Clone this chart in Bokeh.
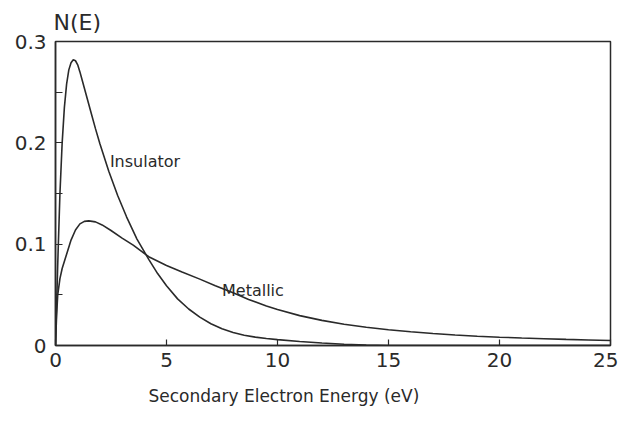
from bokeh.plotting import figure
from bokeh.models import FixedTicker, Range1d, Label, Title
from bokeh.embed import file_html
from bokeh.resources import INLINE

# Data
insulator_e = [0, 0.05, 0.1, 0.2, 0.3, 0.4, 0.5, 0.6, 0.7, 0.8, 0.9, 1.0, 1.1, 1.2, 1.4, 1.6, 1.8, 2.0, 2.4, 2.8, 3.2, 3.67, 4.2, 4.6, 5.0, 5.5, 6.0, 6.5, 7.0, 7.5, 8.0, 8.5, 9.0, 9.5, 10.0, 11.0, 12.0, 13.0, 14.0, 15.0, 20.0, 25.0]
insulator_n = [0, 0.04, 0.08, 0.15, 0.2, 0.235, 0.258, 0.272, 0.279, 0.282, 0.281, 0.277, 0.27, 0.262, 0.246, 0.23, 0.214, 0.199, 0.172, 0.148, 0.127, 0.105, 0.085, 0.071, 0.059, 0.046, 0.036, 0.028, 0.0215, 0.0165, 0.0128, 0.0102, 0.0083, 0.0069, 0.0058, 0.004, 0.0025, 0.0013, 0.0005, 0.0, 0.0, 0.0]

metallic_e = [0, 0.05, 0.1, 0.2, 0.3, 0.5, 0.7, 0.9, 1.1, 1.3, 1.5, 1.8, 2.1, 2.5, 3.0, 3.5, 4.2, 5.0, 5.7, 6.5, 7.2, 8.0, 8.7, 9.5, 10.0, 11.0, 12.0, 13.0, 14.0, 15.0, 16.0, 17.0, 18.0, 19.0, 20.0, 21.0, 22.0, 23.0, 24.0, 25.0]
metallic_n = [0, 0.03, 0.05, 0.066, 0.076, 0.09, 0.104, 0.114, 0.12, 0.1225, 0.123, 0.122, 0.119, 0.1135, 0.106, 0.099, 0.0876, 0.079, 0.0725, 0.0655, 0.059, 0.052, 0.0455, 0.039, 0.0355, 0.0295, 0.0248, 0.021, 0.018, 0.0155, 0.0135, 0.0118, 0.0104, 0.0092, 0.0082, 0.0074, 0.0067, 0.006, 0.0055, 0.005]

x_ticks = [0, 5, 10, 15, 20, 25]
y_ticks = [0, 0.1, 0.2, 0.3]
y_minor = [0.05, 0.15, 0.25]
y_tick_labels = {0: "0", 0.1: "0.1", 0.2: "0.2", 0.3: "0.3"}

FONT = "DejaVu Sans"
INK = "#2a2a2a"

p = figure(width=618, height=421, output_backend="svg", toolbar_location=None,
           x_range=Range1d(0, 25), y_range=Range1d(0, 0.3),
           min_border_left=55, min_border_right=8, min_border_top=41, min_border_bottom=76)

p.title.text = "N(E)"
p.title.align = "left"
p.title.offset = -2
p.title.standoff = 14
p.title.text_font = FONT
p.title.text_font_size = "22px"
p.title.text_font_style = "normal"
p.title.text_color = INK

# x-axis title, left of centre as in the reference
p.add_layout(Title(text="Secondary Electron Energy (eV)", align="left", offset=93,
                   standoff=29, text_font=FONT, text_font_size="17px",
                   text_font_style="normal", text_color=INK), "below")

p.grid.visible = False
p.background_fill_color = "white"
p.border_fill_color = "white"
p.outline_line_color = INK
p.outline_line_width = 1.5

p.xaxis.ticker = FixedTicker(ticks=x_ticks)
p.yaxis.ticker = FixedTicker(ticks=y_ticks, minor_ticks=y_minor)
p.yaxis.major_label_overrides = y_tick_labels

for ax in (p.xaxis, p.yaxis):
    ax.axis_line_color = INK
    ax.axis_line_width = 1.5
    ax.major_tick_line_color = INK
    ax.major_tick_line_width = 1.2
    ax.minor_tick_line_color = INK
    ax.minor_tick_line_width = 1.2
    ax.major_tick_out = 0
    ax.minor_tick_out = 0
    ax.major_label_text_font = FONT
    ax.major_label_text_font_size = "20px"
    ax.major_label_text_color = INK

p.xaxis.major_tick_in = 6
p.xaxis.minor_tick_in = 0
p.yaxis.major_tick_in = 7
p.yaxis.minor_tick_in = 7
p.xaxis.major_label_standoff = 7
p.yaxis.major_label_standoff = 9

p.line(insulator_e, insulator_n, line_color=INK, line_width=1.6)
p.line(metallic_e, metallic_n, line_color=INK, line_width=1.6)

p.add_layout(Label(x=2.45, y=0.172, text="Insulator", text_font=FONT,
                   text_font_size="16px", text_color=INK))
p.add_layout(Label(x=7.5, y=0.045, text="Metallic", text_font=FONT,
                   text_font_size="16px", text_color=INK))

open("out.html", "w").write(file_html(p, INLINE))
